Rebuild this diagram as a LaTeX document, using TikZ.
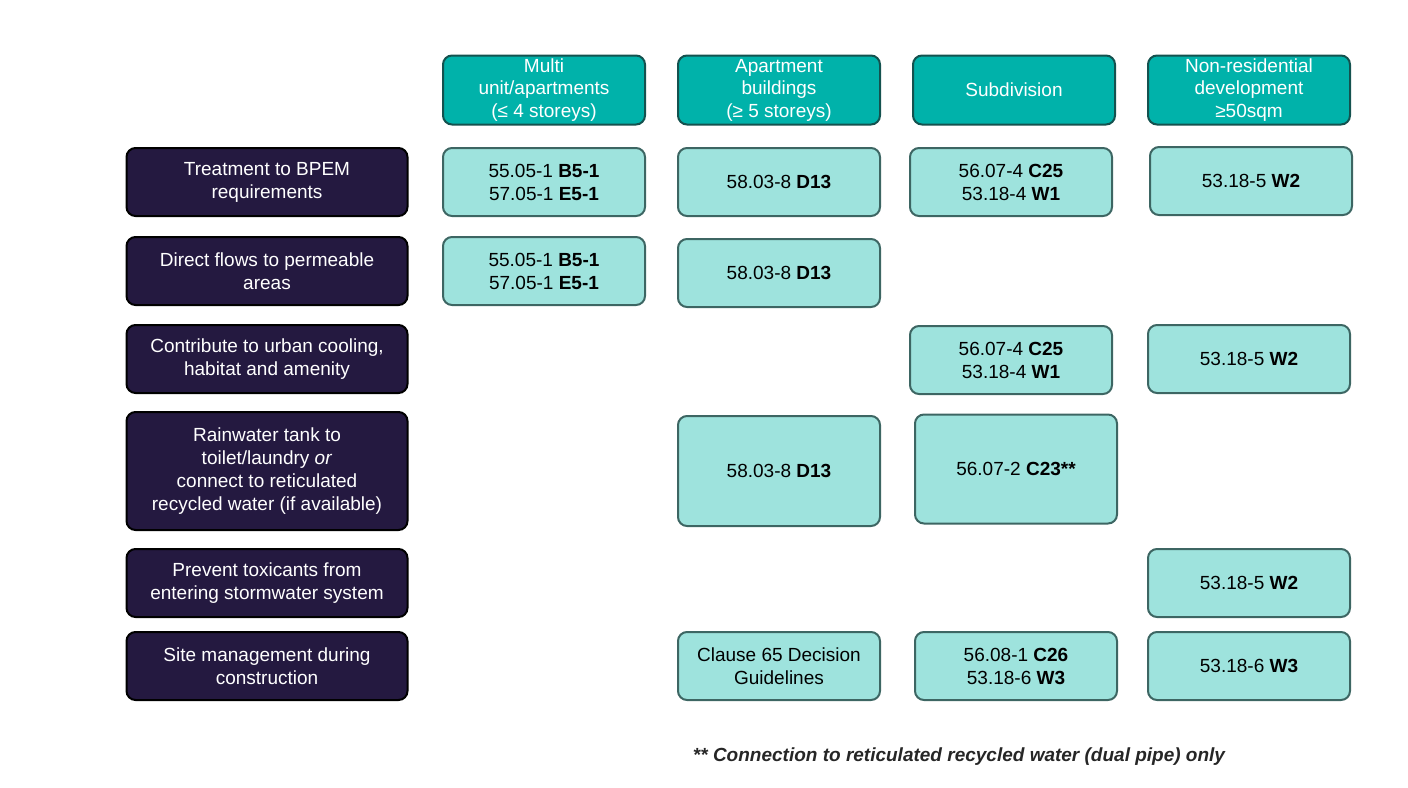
\documentclass[tikz,border=0pt]{standalone}
\usepackage{fontspec}
\setmainfont{Liberation Sans}
\usetikzlibrary{positioning}
\definecolor{headteal}{HTML}{00B2AA}
\definecolor{headedge}{HTML}{14524F}
\definecolor{cellteal}{HTML}{9EE3DD}
\definecolor{celledge}{HTML}{3D6663}
\definecolor{rownavy}{HTML}{241940}
\tikzset{
	header/.style={draw=headedge, line width=2pt, rounded corners=9pt, fill=headteal, text=white, minimum width=202pt, minimum height=69pt, align=center, inner sep=1pt, font=\fontsize{19}{22.5}\selectfont},
	goal/.style={draw=black, line width=2pt, rounded corners=9pt, fill=rownavy, text=white, minimum width=281pt, minimum height=68pt, align=center, font=\fontsize{19}{23}\selectfont},
	cell/.style={draw=celledge, line width=2pt, rounded corners=9pt, fill=cellteal, text=black, minimum width=202pt, minimum height=68pt, align=center, font=\fontsize{19}{23}\selectfont},
}
\begin{document}
\begin{tikzpicture}[x=1pt, y=-1pt]
\useasboundingbox (0,0) rectangle (1408,787);

% column headers
\node (hMulti) [header] at (544,90) {Multi\\unit/apartments\\(≤ 4 storeys)};
\node (hApt) [header] at (779,90) {Apartment\\buildings\\(≥ 5 storeys)};
\node (hSub) [header] at (1014,90) {Subdivision};
\node (hNonres) [header] at (1249,90) {Non-residential\\development\\≥50sqm};

% row labels
\node (rTreat) [goal] at (267,182) {Treatment to BPEM\\requirements};
\node (rFlows) [goal] at (267,271) {Direct flows to permeable\\areas};
\node (rCool) [goal] at (267,359) {Contribute to urban cooling,\\habitat and amenity};
\node (rTank) [goal, minimum height=118pt] at (267,471) {Rainwater tank to\\toilet/laundry \emph{or}\\connect to reticulated\\recycled water (if available)};
\node (rToxic) [goal] at (267,583) {Prevent toxicants from\\entering stormwater system};
\node (rSite) [goal] at (267,666) {Site management during\\construction};

% cells
\node (cTreatMulti) [cell] at (544,182) {55.05-1 \textbf{B5-1}\\57.05-1 \textbf{E5-1}};
\node (cTreatApt) [cell] at (779,182) {58.03-8 \textbf{D13}};
\node (cTreatSub) [cell] at (1011,182) {56.07-4 \textbf{C25}\\53.18-4 \textbf{W1}};
\node (cTreatNonres) [cell] at (1251,181) {53.18-5 \textbf{W2}};

\node (cFlowsMulti) [cell] at (544,271) {55.05-1 \textbf{B5-1}\\57.05-1 \textbf{E5-1}};
\node (cFlowsApt) [cell] at (779,273) {58.03-8 \textbf{D13}};

\node (cCoolSub) [cell] at (1011,360) {56.07-4 \textbf{C25}\\53.18-4 \textbf{W1}};
\node (cCoolNonres) [cell] at (1249,359) {53.18-5 \textbf{W2}};

\node (cTankApt) [cell, minimum height=110pt] at (779,471) {58.03-8 \textbf{D13}};
\node (cTankSub) [cell, minimum height=109pt] at (1016,469) {56.07-2 \textbf{C23**}};

\node (cToxicNonres) [cell] at (1249,583) {53.18-5 \textbf{W2}};

\node (cSiteApt) [cell] at (779,666) {Clause 65 Decision\\Guidelines};
\node (cSiteSub) [cell] at (1016,666) {56.08-1 \textbf{C26}\\53.18-6 \textbf{W3}};
\node (cSiteNonres) [cell] at (1249,666) {53.18-6 \textbf{W3}};

\node (note) [font=\fontsize{19}{23}\selectfont\bfseries\itshape, text=black!85] at (959,757) {** Connection to reticulated recycled water (dual pipe) only};
\end{tikzpicture}
\end{document}
